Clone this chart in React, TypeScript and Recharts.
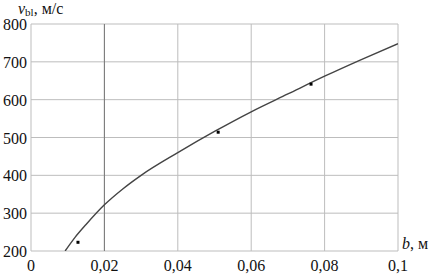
import { CartesianGrid, ComposedChart, Customized, Line, ReferenceLine, Scatter, XAxis, YAxis } from 'recharts'

// fitted curve
const curveB = [0.0093, 0.012, 0.015, 0.02, 0.025, 0.03, 0.04, 0.05, 0.06, 0.07, 0.08, 0.09, 0.1]
const curveV = [200, 236, 270, 322, 364, 400, 460, 516, 568, 615, 662, 706, 748]

// measured points
const pointB = [0.0128, 0.051, 0.0763]
const pointV = [223, 514, 641]

const xTicks = [0, 0.02, 0.04, 0.06, 0.08, 0.1]
const yTicks = [200, 300, 400, 500, 600, 700, 800]

const curveData = curveB.map((b, i) => ({ b, v: curveV[i] }))
const pointData = pointB.map((b, i) => ({ b, v: pointV[i] }))

const txt = { fontFamily: 'Liberation Serif', fontSize: 16, fill: '#111' }

const fmt = (t: number) => String(t).replace('.', ',')

function XTick({ x, y, payload }: any) {
  return (
    <text x={x} y={y + 14} textAnchor="middle" style={txt}>
      {fmt(payload.value)}
    </text>
  )
}

function YTick({ x, y, payload }: any) {
  return (
    <text x={x + 2} y={y + 6} textAnchor="end" style={txt}>
      {payload.value}
    </text>
  )
}

function AxisTitles() {
  return (
    <g>
      <text x={18} y={14} style={txt}>
        <tspan style={{ fontStyle: 'italic' }}>v</tspan>
        <tspan style={{ fontSize: 11 }} dy={2}>bl</tspan>
        <tspan dy={-2}>, м/с</tspan>
      </text>
      <text x={402} y={249} style={txt}>
        <tspan style={{ fontStyle: 'italic' }}>b</tspan>
        <tspan>, м</tspan>
      </text>
    </g>
  )
}

export default function App() {
  return (
    <div style={{ position: 'absolute', left: 0, top: 0, width: 431, height: 274, background: '#fff' }}>
      <ComposedChart width={431} height={274} margin={{ top: 24, right: 33, left: 0, bottom: 0 }}>
        <CartesianGrid stroke="#bdbdbd" strokeWidth={1} />
        <XAxis
          type="number"
          dataKey="b"
          domain={[0, 0.1]}
          ticks={xTicks}
          axisLine={false}
          tickLine={false}
          height={23}
          tick={<XTick />}
          tickMargin={0}
          interval={0}
          allowDataOverflow
        />
        <YAxis
          type="number"
          dataKey="v"
          domain={[200, 800]}
          ticks={yTicks}
          axisLine={false}
          tickLine={false}
          width={31}
          tick={<YTick />}
          tickMargin={0}
          interval={0}
          allowDataOverflow
        />
        <ReferenceLine x={0.02} stroke="#777" strokeWidth={1} />
        <Line
          data={curveData}
          dataKey="v"
          type="monotone"
          stroke="#444"
          strokeWidth={1.4}
          dot={false}
          isAnimationActive={false}
        />
        <Scatter
          data={pointData}
          dataKey="v"
          fill="#000"
          isAnimationActive={false}
          shape={(p: any) => <rect x={p.cx - 1.5} y={p.cy - 1.5} width={3} height={3} fill="#000" />}
        />
        <Customized component={AxisTitles} />
      </ComposedChart>
    </div>
  )
}
